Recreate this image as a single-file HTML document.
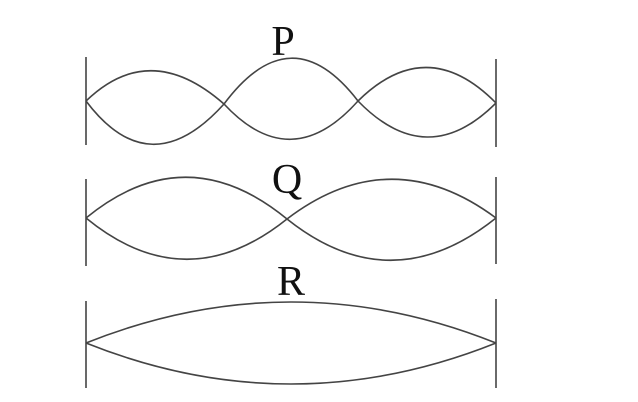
<!DOCTYPE html>
<html><head><style>html,body{margin:0;padding:0;background:#fff;}svg{display:block}</style></head>
<body>
<svg width="638" height="402" viewBox="0 0 638 402" xmlns="http://www.w3.org/2000/svg">
<g stroke="#444" stroke-width="1.6" fill="none">
<line x1="86" y1="57" x2="86" y2="145"/>
<line x1="496" y1="59" x2="496" y2="147"/>
<line x1="86" y1="179" x2="86" y2="266"/>
<line x1="496" y1="177" x2="496" y2="264"/>
<line x1="86" y1="301" x2="86" y2="388"/>
<line x1="496" y1="299" x2="496" y2="388"/>
<path d="M86,101 Q150,39 224,104 Q291,14 358,101 Q427,33 496,103"/>
<path d="M86,101 Q150,186 224,104 Q291,176 358,101 Q427,172 496,103"/>
<path d="M86,218 Q186,136 287,219 Q391,140 496,218"/>
<path d="M86,218 Q186,300 287,219 Q391,302 496,218"/>
<path d="M86,343 Q291,261 496,343"/>
<path d="M86,343 Q291,425 496,343"/>
</g>
<g font-family="Liberation Serif, serif" font-size="42" fill="#111" text-anchor="middle">
<text x="283" y="55">P</text>
<text x="287" y="193">Q</text>
<text x="291" y="295">R</text>
</g>
</svg>
</body></html>
